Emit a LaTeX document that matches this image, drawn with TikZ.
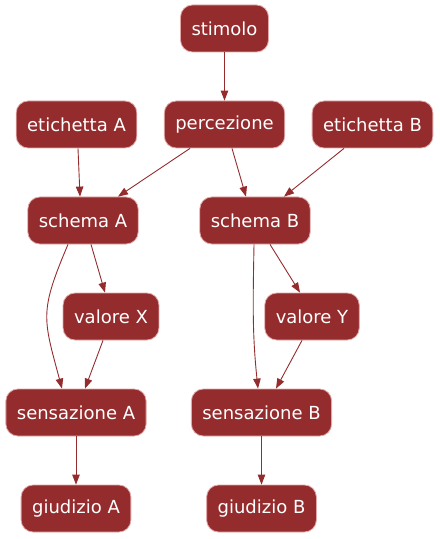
\documentclass[tikz,border=0pt]{standalone}
\usepackage{fontspec}
\setmainfont{DejaVu Sans}
\usepackage{tikz}
\usetikzlibrary{arrows.meta, positioning}
\usepackage{xcolor}
\definecolor{boxred}{RGB}{148,44,46}
\definecolor{boxrim}{RGB}{226,168,168}

\begin{document}
\begin{tikzpicture}[x=1bp, y=-1bp,
        box/.style={draw=boxrim, line width=0.8bp, fill=boxred, text=white,
            rounded corners=12bp, minimum height=47bp, inner xsep=11bp,
            font=\fontsize{18bp}{21bp}\selectfont},
        link/.style={draw=boxred, line width=0.9bp, -{Triangle[length=10bp,width=7.5bp]}}]
        \useasboundingbox (0,0) rectangle (440,539);

        \node[box] (stim) at (224.5,28.5) {stimolo};
        \node[box] (etA) at (76.5,124.5) {etichetta A};
        \node[box] (perc) at (224.5,124.5) {percezione};
        \node[box] (etB) at (372.5,124.5) {etichetta B};
        \node[box] (schA) at (83,220.5) {schema A};
        \node[box] (schB) at (255,220.5) {schema B};
        \node[box] (valX) at (111,316.5) {valore X};
        \node[box] (valY) at (312,316.5) {valore Y};
        \node[box] (sensA) at (76,412.5) {sensazione A};
        \node[box] (sensB) at (261.5,412.5) {sensazione B};
        \node[box] (giuA) at (76,508.5) {giudizio A};
        \node[box] (giuB) at (261.5,508.5) {giudizio B};

        \draw[link] (stim) -- (perc);
        \draw[link] ([xshift=1.5bp]etA.south) -- ([xshift=-3bp]schA.north);
        \draw[link] ([xshift=-34.5bp]perc.south) -- ([xshift=35bp]schA.north);
        \draw[link] ([xshift=7.5bp]perc.south) -- ([xshift=-9bp]schB.north);
        \draw[link] ([xshift=-28.5bp]etB.south) -- ([xshift=29bp]schB.north);

        \draw[link] ([xshift=-15bp]schA.south) to[out=-113,in=105,looseness=1.3] ([xshift=-14bp]sensA.north);
        \draw[link] ([xshift=8bp]schA.south) -- ([xshift=-6bp]valX.north);
        \draw[link] ([xshift=-8bp]valX.south) -- ([xshift=9bp]sensA.north);
        \draw[link] ([xshift=-1bp]schB.south) to[out=-91,in=96] ([xshift=-3.5bp]sensB.north);
        \draw[link] ([xshift=15bp]schB.south) -- ([xshift=-12bp]valY.north);
        \draw[link] ([xshift=-10bp]valY.south) -- ([xshift=14.5bp]sensB.north);

        \draw[link] (sensA) -- (giuA);
        \draw[link] (sensB) -- (giuB);
\end{tikzpicture}
\end{document}
